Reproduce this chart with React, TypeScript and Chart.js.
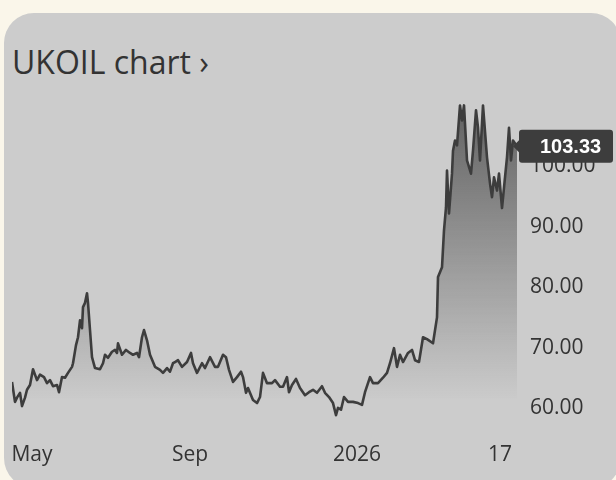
import React, { useEffect, useRef } from "react";
import { Chart, registerables } from "chart.js";

Chart.register(...registerables);

// Trading-day index along the x axis
const dayIndex = [
  0, 1.5, 2.5, 4, 5, 6.5, 7.5, 9, 10.5, 12.5, 14, 16, 17.5, 19, 20.5, 22.5, 23.5, 25, 26.5, 28,
  30, 30.5, 32, 33, 34, 35, 35.5, 36.5, 37.5, 38, 39, 40, 41.5, 44, 45.5, 46.5, 48, 50, 51.5, 52.5,
  53, 55, 57, 59, 60.5, 62.5, 63.5, 65, 66, 67.5, 69, 71.5, 74, 75.5, 77.5, 79, 80.5, 81.5, 83, 85,
  87.5, 89.5, 90.5, 92.5, 95, 96.5, 99, 101.5, 103, 105.5, 107, 108.5, 110.5, 112.5, 114.5, 115.5,
  117, 118, 119.5, 120.5, 122.5, 124, 125.5, 127.5, 130, 131.5, 134, 135.5, 137.5, 138.5, 140, 142,
  144, 146.5, 148.5, 150.5, 152.5, 155, 156.5, 158.5, 160.5, 162, 163, 164.5, 166, 168, 170.5, 173,
  175, 176.5, 179, 180.5, 183, 185.5, 187.5, 189, 191, 192.5, 194, 195.5, 198, 200, 201.5, 203.5,
  205.5, 207.5, 210.5, 212.5, 213, 215, 216, 217, 217.5, 218.5, 220, 220.5, 221.5, 222.5, 224, 225,
  226, 227.5, 229.5, 230.5, 232, 233, 234, 235.5, 237.5, 239, 240, 241, 242.5, 243.5, 245, 246.5,
  247.5, 248.5, 249.5, 250.5, 252.5,
];

// UKOIL price
const price = [
  64.3, 61, 61.7, 62.5, 60.3, 61.7, 63, 63.8, 66.4, 64.6, 65.5, 65.1, 64.1, 64.6, 63.6, 63.8, 62.6, 65.1, 65, 65.8,
  66.8, 67.4, 70.4, 71.7, 74.5, 73.2, 76.7, 77.4, 79, 77.4, 72.9, 68.4, 66.6, 66.4, 67.4, 68.8, 68.3, 69.3, 69.6, 69.1,
  70.7, 68.8, 69.6, 69.1, 68.8, 69.1, 68.4, 71.7, 72.9, 71.2, 68.8, 66.8, 66.3, 65.8, 66.6, 66, 67.4, 67.6, 67.9, 66.8,
  67.6, 69.1, 67.4, 65.8, 67.4, 66.6, 68.4, 66.8, 66.8, 68.8, 68.4, 66.3, 64.3, 65.1, 66, 65.1,
  62.5, 63.3, 62.1, 61.3, 60.8, 61.8, 65.8, 64.1, 64.1, 64.6, 63.5, 63.5, 65.1, 62.6, 63.8, 64.8,
  63.3, 62.1, 62.6, 63, 62.5, 63.6, 62.5, 61.8, 60.8, 58.8, 60, 59.7, 61.8, 61, 61, 60.8,
  60.5, 62.6, 65.1, 64.1, 64.1, 65, 65.8, 67.4, 69.9, 66.8, 68.8, 67.6, 69.1, 69.6, 67.9, 67.6,
  71.7, 71.4, 70.7, 75, 81.7, 83.3, 89.4, 93.2, 99.3, 92.2, 98.8, 102.6, 104.3, 103.5, 110.1, 107.6,
  110.1, 101, 98.8, 102.6, 109.3, 106.4, 101, 110.1, 101.5, 97.2, 94.9, 98.2, 96, 98.8, 93.1, 98.2,
  101.5, 106.4, 101, 104.3, 103.33,
];

const xTickPositions = [10, 89, 172.5, 244];
const xTickLabels = ["May", "Sep", "2026", "17"];
const yTickValues = [60, 70, 80, 90, 100];
const lastPriceLabel = "103.33";

const FONT = "'Open Sans', 'Noto Sans', 'DejaVu Sans', sans-serif";

const priceTagPlugin = {
  id: "priceTag",
  afterDraw(chart: any) {
    const { ctx, chartArea, scales } = chart;
    const last = price[price.length - 1];
    const y = scales.y.getPixelForValue(last);
    const left = chartArea.right + 2;
    const right = 613;
    const h = 33;
    const top = y - h / 2;
    ctx.save();
    ctx.fillStyle = "#3d3d3d";
    ctx.beginPath();
    const r = 3;
    ctx.moveTo(left + r, top);
    ctx.lineTo(right - r, top);
    ctx.quadraticCurveTo(right, top, right, top + r);
    ctx.lineTo(right, top + h - r);
    ctx.quadraticCurveTo(right, top + h, right - r, top + h);
    ctx.lineTo(left + r, top + h);
    ctx.quadraticCurveTo(left, top + h, left, top + h - r);
    ctx.lineTo(left, y + 6);
    ctx.lineTo(left - 6, y);
    ctx.lineTo(left, y - 6);
    ctx.lineTo(left, top + r);
    ctx.quadraticCurveTo(left, top, left + r, top);
    ctx.closePath();
    ctx.fill();
    ctx.fillStyle = "#ffffff";
    ctx.font = "bold 20px 'Liberation Sans', Arial, sans-serif";
    ctx.textAlign = "left";
    ctx.textBaseline = "middle";
    ctx.fillText(lastPriceLabel, left + 21, y + 1);
    ctx.restore();
  },
};

export default function App() {
  const canvasRef = useRef<HTMLCanvasElement | null>(null);

  useEffect(() => {
    if (!canvasRef.current) return;
    const points = dayIndex.map((x, i) => ({ x, y: price[i] }));
    const chart = new Chart(canvasRef.current, {
      type: "line",
      data: {
        datasets: [
          {
            data: points,
            borderColor: "#3d3d3d",
            borderWidth: 2.6,
            borderJoinStyle: "round",
            pointRadius: 0,
            tension: 0,
            fill: "start",
            backgroundColor: (context: any) => {
              const { chart } = context;
              const { ctx, chartArea } = chart;
              if (!chartArea) return "rgba(40,40,40,0.3)";
              const g = ctx.createLinearGradient(0, chartArea.top, 0, chartArea.bottom);
              g.addColorStop(0, "rgba(40,40,40,0.66)");
              g.addColorStop(0.93, "rgba(40,40,40,0)");
              g.addColorStop(1, "rgba(40,40,40,0)");
              return g;
            },
          },
        ],
      },
      options: {
        responsive: false,
        animation: false,
        layout: { padding: { left: 12, top: 100, right: 0, bottom: 0 }, autoPadding: false },
        plugins: {
          legend: { display: false },
          tooltip: { enabled: false },
          title: { display: false },
        },
        scales: {
          x: {
            type: "linear",
            min: 0,
            max: 252.5,
            grid: { display: false, drawTicks: false },
            border: { display: false },
            afterBuildTicks: (scale: any) => {
              scale.ticks = xTickPositions.map((v) => ({ value: v }));
            },
            afterFit: (scale: any) => {
              scale.paddingLeft = 0;
              scale.paddingRight = 0;
              scale.height = 57;
            },
            ticks: {
              autoSkip: false,
              maxRotation: 0,
              padding: 19,
              color: "#333333",
              font: { family: FONT, size: 21 },
              callback: (_v: any, i: number) => xTickLabels[i],
            },
          },
          y: {
            type: "linear",
            position: "right",
            min: 57.5,
            max: 111,
            grid: { display: false, drawTicks: false },
            border: { display: false },
            afterBuildTicks: (scale: any) => {
              scale.ticks = yTickValues.map((v) => ({ value: v }));
            },
            afterFit: (scale: any) => {
              scale.paddingTop = 0;
              scale.paddingBottom = 0;
              scale.width = 99;
            },
            ticks: {
              padding: 13,
              color: "#333333",
              font: { family: FONT, size: 21 },
              callback: (v: any) => Number(v).toFixed(2),
            },
          },
        },
      },
      plugins: [priceTagPlugin],
    });
    return () => chart.destroy();
  }, []);

  return (
    <div
      style={{
        position: "fixed",
        left: 0,
        top: 0,
        width: 616,
        height: 480,
        overflow: "hidden",
        background: "#faf6ea",
      }}
    >
      <div
        style={{
          position: "absolute",
          left: 4,
          top: 13,
          width: 617,
          height: 475,
          borderRadius: 30,
          background: "#cccccc",
        }}
      />
      <div
        style={{
          position: "absolute",
          left: 12,
          top: 46,
          fontFamily: FONT,
          fontSize: 32,
          fontWeight: 500,
          lineHeight: "31px",
          color: "#333333",
          whiteSpace: "nowrap",
        }}
      >
        UKOIL chart ›
      </div>
      <canvas
        ref={canvasRef}
        width={616}
        height={480}
        style={{ position: "absolute", left: 0, top: 0, width: 616, height: 480 }}
      />
    </div>
  );
}
